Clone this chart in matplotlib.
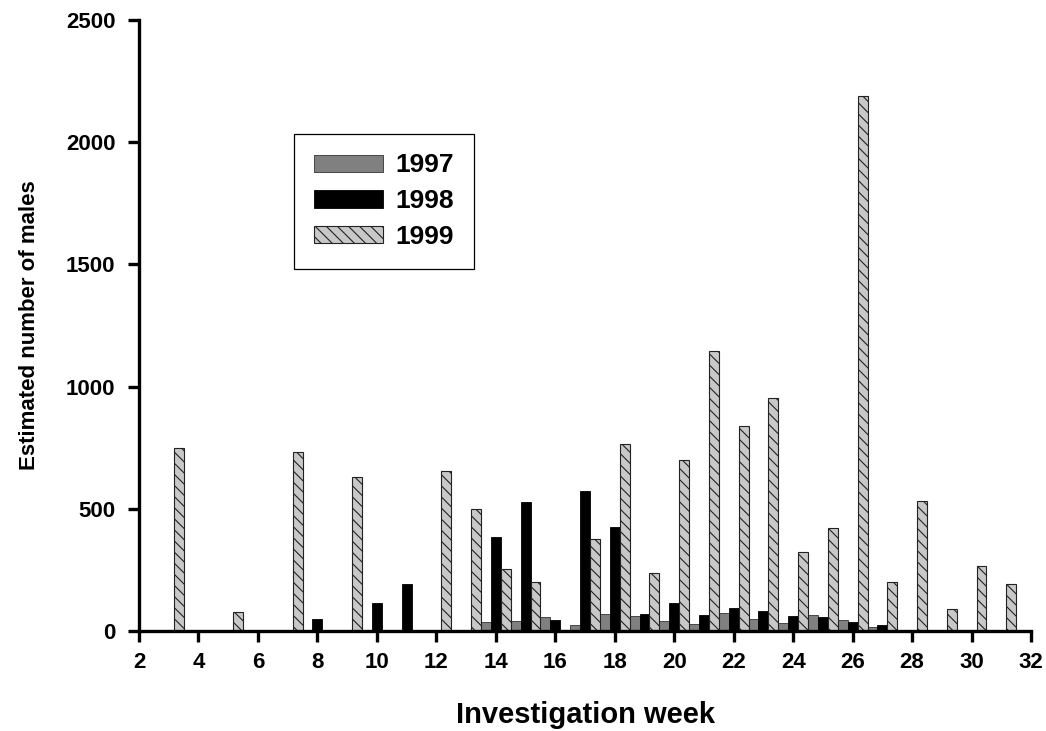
import matplotlib
matplotlib.use("Agg")
from matplotlib import pyplot as plt
import numpy as np

plt.rcParams['font.family'] = ['Liberation Sans', 'DejaVu Sans']
plt.rcParams['hatch.linewidth'] = 0.8

weeks = np.arange(3, 32)
# values per investigation week 3..31 (0 = no bar)
males_1997 = [0, 0, 0, 0, 0, 0, 0, 0, 0, 0, 0, 35, 40, 57, 25, 68, 60, 42, 27, 75, 50, 34, 65, 43, 16, 0, 0, 0, 0]
males_1998 = [0, 0, 0, 0, 0, 50, 0, 114, 193, 0, 0, 384, 527, 44, 571, 425, 70, 114, 65, 94, 80, 60, 57, 36, 25, 0, 0, 0, 0]
males_1999 = [748, 0, 77, 0, 732, 0, 631, 0, 0, 655, 500, 252, 201, 5, 377, 766, 239, 700, 1146, 840, 952, 324, 423, 2191, 202, 530, 92, 264, 193]
years = ['1997', '1998', '1999']

fig = plt.figure(figsize=(10.46, 7.31), dpi=100)
ax = fig.add_axes([0.1329, 0.1368, 0.8528, 0.8358])

w = 1/3
ax.bar(weeks - w, males_1997, width=w, color='#808080', edgecolor='#333333', lw=0.6, label=years[0])
ax.bar(weeks, males_1998, width=w, color='black', edgecolor='black', lw=0.6, label=years[1])
ax.bar(weeks + w, males_1999, width=w, color='#c8c8c8', edgecolor='#222222', lw=0.8,
       hatch='\\\\\\', label=years[2])

ax.set_xlim(2, 32)
ax.set_ylim(0, 2500)
ax.set_xticks(np.arange(2, 33, 2))
ax.set_yticks(np.arange(0, 2501, 500))
for s in ['top', 'right']:
    ax.spines[s].set_visible(False)
for s in ['left', 'bottom']:
    ax.spines[s].set_linewidth(2.4)
ax.tick_params(direction='out', length=8, width=2.4, labelsize=16)
ax.tick_params(axis='x', pad=7)
ax.tick_params(axis='y', pad=9)
for lab in ax.get_xticklabels() + ax.get_yticklabels():
    lab.set_fontweight('bold')

ax.set_xlabel('Investigation week', fontsize=21, fontweight='bold', labelpad=20)
ax.set_ylabel('Estimated number of males', fontsize=16, fontweight='bold', labelpad=19)

leg = ax.legend(loc='upper left', bbox_to_anchor=(0.174, 0.814), fancybox=False,
                frameon=True, edgecolor='black', framealpha=1,
                prop={'weight': 'bold', 'size': 19},
                handlelength=2.6, handleheight=0.62, labelspacing=0.45,
                borderpad=0.75, handletextpad=0.5, borderaxespad=0)
leg.get_frame().set_linewidth(0.9)

fig.savefig('out.png', dpi=100)
